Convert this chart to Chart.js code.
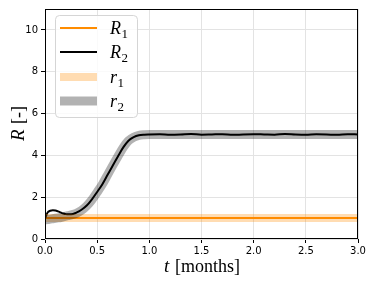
<!DOCTYPE html>
<html>
<head>
<meta charset="utf-8">
<script src="https://cdn.jsdelivr.net/npm/chart.js@4.4.1/dist/chart.umd.min.js"></script>
<style>
    html, body { margin: 0; padding: 0; background: #fff; }
    #wrap { width: 371px; height: 282px; }
</style>
</head>
<body>
<div id="wrap"><canvas id="chart" width="371" height="282"></canvas></div>
<script>
// time axis (months)
var t_values = [
    0, 0.025, 0.05, 0.075, 0.1, 0.125, 0.15, 0.175, 0.2, 0.225, 0.25, 0.3, 0.35, 0.4, 0.45,
    0.5, 0.55, 0.6, 0.65, 0.7, 0.75, 0.8, 0.85, 0.9, 0.95, 1.0,
    1.1, 1.2, 1.3, 1.4, 1.5, 1.6, 1.7, 1.8, 1.9, 2.0,
    2.1, 2.2, 2.3, 2.4, 2.5, 2.6, 2.7, 2.8, 2.9, 3.0
];

var R1_values = [
    1, 1, 1, 1, 1, 1, 1, 1, 1, 1, 1, 1, 1, 1, 1,
    1, 1, 1, 1, 1, 1, 1, 1, 1, 1, 1,
    1, 1, 1, 1, 1, 1, 1, 1, 1, 1,
    1, 1, 1, 1, 1, 1, 1, 1, 1, 1
];

var R2_values = [
    0.98, 1.27, 1.35, 1.37, 1.36, 1.32, 1.27, 1.22, 1.19, 1.18, 1.18, 1.26, 1.40, 1.60, 1.90,
    2.25, 2.62, 3.07, 3.52, 3.96, 4.38, 4.70, 4.87, 4.96, 4.99, 5.00,
    5.01, 4.99, 5.00, 5.02, 4.99, 5.00, 5.01, 4.98, 5.00, 5.01,
    5.00, 4.99, 5.02, 5.00, 4.99, 5.01, 5.00, 4.98, 5.01, 5.00
];

var r1_values = R1_values.slice();

var r2_values = [
    0.92, 0.93, 0.95, 0.97, 0.99, 1.01, 1.03, 1.06, 1.09, 1.12, 1.15, 1.23, 1.37, 1.58, 1.88,
    2.24, 2.62, 3.07, 3.52, 3.96, 4.38, 4.70, 4.87, 4.96, 4.99, 5.00,
    5.00, 5.00, 5.00, 5.00, 5.00, 5.00, 5.00, 5.00, 5.00, 5.00,
    5.00, 5.00, 5.00, 5.00, 5.00, 5.00, 5.00, 5.00, 5.00, 5.00
];

var x_ticks = [0, 0.5, 1.0, 1.5, 2.0, 2.5, 3.0];
var y_ticks = [0, 2, 4, 6, 8, 10];

// legend entries: [symbol, subscript]
var legend_labels = [["R", "1"], ["R", "2"], ["r", "1"], ["r", "2"]];

var serif = "'Liberation Serif', 'DejaVu Serif', serif";
var sans = "'DejaVu Sans', sans-serif";

function to_points (values) {
    var points = [];

    for (var i = 0; i < t_values.length; i++) {
        points.push({"x": t_values[i], "y": values[i]});
    }

    return points;
}

// draws italic symbol + upright subscript
function draw_math (ctx, sym, sub, x, y, size) {
    ctx.font = "italic " + size + "px " + serif;
    ctx.fillText(sym, x, y);

    var w = ctx.measureText(sym).width;

    if (sub) {
        ctx.font = Math.round(size * 0.7) + "px " + serif;
        ctx.fillText(sub, x + w + 0.5, y + size * 0.22);
    }
}

// mixed italic / upright title, centred on 0
function draw_title (ctx, sym, rest, y) {
    ctx.font = "italic 19px " + serif;
    var w1 = ctx.measureText(sym).width;
    ctx.font = "18px " + serif;
    var w2 = ctx.measureText(rest).width;
    var x0 = -(w1 + w2) / 2;

    ctx.font = "italic 19px " + serif;
    ctx.fillText(sym, x0, y);
    ctx.font = "18px " + serif;
    ctx.fillText(rest, x0 + w1 + 1, y);
}

var frame_plugin = {
    "id": "frame",
    "afterDatasetsDraw": function (chart) {
        var ctx = chart.ctx;
        var area = chart.chartArea;

        ctx.save();
        ctx.strokeStyle = "#000";
        ctx.lineWidth = 1;
        ctx.strokeRect(area.left + 0.5, area.top + 0.5, area.right - area.left - 1, area.bottom - area.top - 1);
        ctx.restore();
    },
    "afterDraw": function (chart) {
        var ctx = chart.ctx;
        var area = chart.chartArea;

        ctx.save();
        ctx.fillStyle = "#000";
        ctx.textBaseline = "alphabetic";

        // x axis title
        ctx.save();
        ctx.translate((area.left + area.right) / 2, 0);
        draw_title(ctx, "t", " [months]", 272);
        ctx.restore();

        // y axis title
        ctx.save();
        ctx.translate(24, (area.top + area.bottom) / 2);
        ctx.rotate(-Math.PI / 2);
        draw_title(ctx, "R", " [-]", 0);
        ctx.restore();

        // legend
        var box = {"x": 55, "y": 15, "w": 82, "h": 102};

        ctx.globalAlpha = 0.8;
        ctx.fillStyle = "#fff";
        ctx.beginPath();
        ctx.roundRect(box.x + 0.5, box.y + 0.5, box.w, box.h, 4);
        ctx.fill();
        ctx.globalAlpha = 1;
        ctx.strokeStyle = "#d5d5d5";
        ctx.lineWidth = 1;
        ctx.stroke();

        var rows = [28, 52, 77, 101];
        var datasets = chart.data.datasets;

        for (var i = 0; i < rows.length; i++) {
            var ds = datasets[i];

            ctx.strokeStyle = ds.borderColor;
            ctx.lineWidth = ds.borderWidth;
            ctx.lineCap = "butt";
            ctx.beginPath();
            ctx.moveTo(60, rows[i]);
            ctx.lineTo(97, rows[i]);
            ctx.stroke();

            ctx.fillStyle = "#000";
            draw_math(ctx, legend_labels[i][0], legend_labels[i][1], 110, rows[i] + 6, 18);
        }

        ctx.restore();
    }
};

var config = {
    "type": "line",
    "data": {
        "datasets": [
            {
                "label": "R1",
                "data": to_points(R1_values),
                "borderColor": "#ff8c00",
                "borderWidth": 2,
                "pointRadius": 0,
                "fill": false,
                "order": 4
            },
            {
                "label": "R2",
                "data": to_points(R2_values),
                "borderColor": "#000000",
                "borderWidth": 2,
                "pointRadius": 0,
                "fill": false,
                "cubicInterpolationMode": "monotone",
                "order": 3
            },
            {
                "label": "r1",
                "data": to_points(r1_values),
                "borderColor": "rgba(255, 140, 0, 0.3)",
                "borderWidth": 8,
                "pointRadius": 0,
                "fill": false,
                "order": 2
            },
            {
                "label": "r2",
                "data": to_points(r2_values),
                "borderColor": "rgba(0, 0, 0, 0.3)",
                "borderWidth": 9,
                "pointRadius": 0,
                "fill": false,
                "cubicInterpolationMode": "monotone",
                "order": 1
            }
        ]
    },
    "options": {
        "responsive": false,
        "animation": false,
        "devicePixelRatio": 1,
        "layout": {
            "padding": {"left": 0, "right": 13, "top": 6, "bottom": 0}
        },
        "scales": {
            "x": {
                "type": "linear",
                "min": 0,
                "max": 3,
                "afterBuildTicks": function (scale) {
                    scale.ticks = x_ticks.map(function (v) { return {"value": v}; });
                },
                "afterFit": function (scale) {
                    scale.height = 43;
                },
                "grid": {
                    "color": "#e3e3e3",
                    "tickColor": "#000",
                    "tickLength": 4,
                    "lineWidth": 1
                },
                "border": {"display": false},
                "ticks": {
                    "color": "#000",
                    "padding": 2,
                    "maxRotation": 0,
                    "font": {"family": sans, "size": 10},
                    "callback": function (v) { return v.toFixed(1); }
                }
            },
            "y": {
                "type": "linear",
                "min": 0,
                "max": 11,
                "afterBuildTicks": function (scale) {
                    scale.ticks = y_ticks.map(function (v) { return {"value": v}; });
                },
                "afterFit": function (scale) {
                    scale.width = 45;
                },
                "grid": {
                    "color": "#e3e3e3",
                    "tickColor": "#000",
                    "tickLength": 4,
                    "lineWidth": 1
                },
                "border": {"display": false},
                "ticks": {
                    "color": "#000",
                    "padding": 3,
                    "font": {"family": sans, "size": 10}
                }
            }
        },
        "plugins": {
            "legend": {"display": false},
            "tooltip": {"enabled": false},
            "title": {"display": false}
        }
    },
    "plugins": [frame_plugin]
};

new Chart(document.getElementById("chart").getContext("2d"), config);
</script>
</body>
</html>
